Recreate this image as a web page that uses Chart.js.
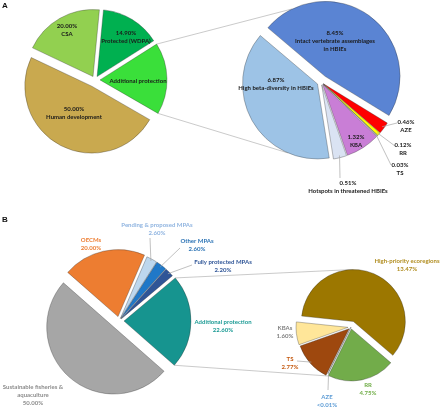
<!DOCTYPE html>
<html>
<head>
<meta charset="utf-8">
<script src="https://cdn.jsdelivr.net/npm/chart.js@4.4.1/dist/chart.umd.min.js"></script>
<style>
  body { margin: 0; background: #fff; }
  #wrap { position: relative; width: 440px; height: 408px; overflow: hidden; }
  #wrap canvas { position: absolute; left: 0; top: 0; }
  .panel { position: absolute; font: bold 8px "Liberation Sans", Arial, sans-serif; color: #111; }
</style>
</head>
<body>
<div id="wrap">
  <canvas id="links" width="440" height="408"></canvas>
  <canvas id="aMain" width="440" height="408"></canvas>
  <canvas id="aDetail" width="440" height="408"></canvas>
  <canvas id="bMain" width="440" height="408"></canvas>
  <canvas id="bDetail" width="440" height="408"></canvas>
  <div class="panel" style="left:2px;top:1px">A</div>
  <div class="panel" style="left:2px;top:215px">B</div>
</div>
<script>
// panel A, main pie (the last slice is the sum of the detail pie)
const aMainLabels = ['Human development', 'CSA', 'Protected (WDPA)', 'Additional protection'];
const aMainValues = [50.00, 20.00, 14.90];
// panel A, detail pie of "Additional protection"
const aDetailLabels = ['High beta-diversity in HBIEs', 'Intact vertebrate assemblages\nin HBIEs', 'AZE', 'RR', 'TS', 'KBA', 'Hotspots in threatened HBIEs'];
const aDetailValues = [6.87, 8.45, 0.46, 0.12, 0.03, 1.32, 0.51];
// panel B, main pie
const bMainLabels = ['Sustainable fisheries &\naquaculture', 'OECMs', 'Pending & proposed MPAs', 'Other MPAs', 'Fully protected MPAs', 'Additional protection'];
const bMainValues = [50.00, 20.00, 2.60, 2.60, 2.20, 22.60];
// panel B, detail pie of "Additional protection"
const bDetailLabels = ['High-priority ecoregions', 'RR', 'AZE', 'TS', 'KBAs'];
const bDetailValues = [13.47, 4.75, 0.005, 2.77, 1.60];

const W = 440, H = 408;
const aOther = aDetailValues.reduce((s, v) => s + v, 0);

function pct(v) {
  if (v == null) return null;
  return v < 0.01 ? '<0.01%' : v.toFixed(2) + '%';
}

// point on the rim of slice i (exploded), at angle a (radians)
function rimPoint(chart, i, a, scale) {
  const arc = chart.getDatasetMeta(0).data[i];
  const e = chart.data.datasets[0].explode[i] || 0;
  const mid = (arc.startAngle + arc.endAngle) / 2;
  const r = arc.outerRadius * (scale || 1);
  return {
    x: arc.x + Math.cos(mid) * e + Math.cos(a) * r,
    y: arc.y + Math.sin(mid) * e + Math.sin(a) * r
  };
}
function midAngle(chart, i) {
  const arc = chart.getDatasetMeta(0).data[i];
  return (arc.startAngle + arc.endAngle) / 2;
}

// draw each slice shifted out along its middle angle
const explodePlugin = {
  id: 'explode',
  beforeDatasetDraw(chart, args) {
    const ctx = chart.ctx;
    const shift = chart.data.datasets[args.index].explode || [];
    args.meta.data.forEach((arc, i) => {
      const mid = (arc.startAngle + arc.endAngle) / 2;
      const d = shift[i] || 0;
      ctx.save();
      ctx.translate(Math.cos(mid) * d, Math.sin(mid) * d);
      arc.draw(ctx);
      ctx.restore();
    });
    return false;
  }
};

function textPlugin(cfg) {
  return {
    id: 'sliceText',
    afterDatasetsDraw(chart) {
      const ctx = chart.ctx;
      ctx.save();
      ctx.strokeStyle = '#A6A6A6';
      ctx.lineWidth = 0.7;
      (cfg.leaders || []).forEach(l => {
        const p = rimPoint(chart, l.i, midAngle(chart, l.i), l.r || 0.97);
        ctx.beginPath();
        ctx.moveTo(p.x, p.y);
        ctx.lineTo(l.x, l.y);
        ctx.stroke();
      });
      ctx.font = cfg.font;
      ctx.textAlign = 'center';
      ctx.textBaseline = 'middle';
      cfg.items.forEach(t => {
        const name = chart.data.labels[t.i].split('\n');
        const val = pct(cfg.shown[t.i]);
        let lines = name;
        if (val) lines = cfg.valueFirst ? [val].concat(name) : name.concat([val]);
        ctx.fillStyle = t.color || cfg.color;
        lines.forEach((s, k) => ctx.fillText(s, t.x, t.y + k * 7.8));
      });
      ctx.restore();
    }
  };
}

function makePie(id, cfg) {
  const pad = {
    left: Math.max(0, 2 * cfg.cx - W), right: Math.max(0, W - 2 * cfg.cx),
    top: Math.max(0, 2 * cfg.cy - H), bottom: Math.max(0, H - 2 * cfg.cy)
  };
  return new Chart(document.getElementById(id), {
    type: 'pie',
    data: {
      labels: cfg.labels,
      datasets: [{
        data: cfg.values,
        backgroundColor: cfg.colors,
        borderColor: 'rgba(40,40,40,0.45)',
        borderWidth: 0.7,
        explode: cfg.explode
      }]
    },
    options: {
      responsive: false,
      animation: false,
      events: [],
      rotation: cfg.start + 90,
      radius: cfg.r,
      layout: { padding: pad },
      plugins: { legend: { display: false }, tooltip: { enabled: false } }
    },
    plugins: [explodePlugin, textPlugin(cfg)]
  });
}

const fontA = 'bold 6px Lato, "Open Sans", sans-serif';

const aMain = makePie('aMain', {
  labels: aMainLabels, values: aMainValues.concat([aOther]), shown: aMainValues,
  colors: ['#C9A94F', '#92D050', '#00B050', '#3ADF3A'],
  cx: 95, cy: 80, r: 67, start: 30, explode: [7, 4, 4, 5],
  font: fontA, color: '#1A1A1A', valueFirst: true,
  items: [
    { i: 1, x: 67, y: 26 }, { i: 2, x: 126, y: 33 },
    { i: 3, x: 138, y: 81 }, { i: 0, x: 74, y: 109 }
  ]
});

const aDetail = makePie('aDetail', {
  labels: aDetailLabels, values: aDetailValues, shown: aDetailValues,
  colors: ['#9DC3E6', '#5A84D3', '#FF0000', '#FFFF00', '#BFBFBF', '#C97ED6', '#DAE3F3'],
  cx: 321, cy: 82, r: 75, start: 81, explode: [4, 7, 3, 3, 3, 3, 3],
  font: fontA, color: '#1A1A1A', valueFirst: true,
  items: [
    { i: 1, x: 335, y: 33 }, { i: 0, x: 276, y: 80 }, { i: 5, x: 356, y: 137 },
    { i: 2, x: 406, y: 122 }, { i: 3, x: 403, y: 145 }, { i: 4, x: 400, y: 165 },
    { i: 6, x: 348, y: 183 }
  ],
  leaders: [
    { i: 2, x: 397, y: 123 }, { i: 3, x: 395, y: 146 },
    { i: 4, x: 391, y: 165 }, { i: 6, x: 340, y: 178 }
  ]
});

const fontB = 'bold 6px Lato, "Open Sans", sans-serif';

const bMain = makePie('bMain', {
  labels: bMainLabels, values: bMainValues, shown: bMainValues,
  colors: ['#A6A6A6', '#ED7D31', '#BDD7EE', '#1F78C8', '#2F5597', '#16948F'],
  cx: 119, cy: 321, r: 67, start: 41.3, explode: [8, 4.5, 3, 3, 3, 5],
  font: fontB, valueFirst: false,
  items: [
    { i: 1, x: 91, y: 240, color: '#ED7D31' },
    { i: 2, x: 157, y: 225, color: '#8FB4E0' },
    { i: 3, x: 197, y: 241, color: '#2E75B6' },
    { i: 4, x: 223, y: 262, color: '#2F5597' },
    { i: 5, x: 223, y: 322, color: '#1A9A94' },
    { i: 0, x: 33, y: 387, color: '#8C8C8C' }
  ],
  leaders: [
    { i: 2, x: 150, y: 238 }, { i: 3, x: 180, y: 248 }, { i: 4, x: 192, y: 265 }
  ]
});

const bDetail = makePie('bDetail', {
  labels: bDetailLabels, values: bDetailValues, shown: bDetailValues,
  colors: ['#9C7700', '#72AC4A', '#9DC3E6', '#9E480E', '#FFE699'],
  cx: 351, cy: 327, r: 52, start: 186, explode: [6, 2, 0, 2.5, 3],
  font: fontB, valueFirst: false,
  items: [
    { i: 0, x: 407, y: 261, color: '#B08C1E' },
    { i: 4, x: 285, y: 328, color: '#7F7F7F' },
    { i: 3, x: 290, y: 359, color: '#C55A11' },
    { i: 1, x: 368, y: 385, color: '#70AD47' },
    { i: 2, x: 327, y: 397, color: '#5B9BD5' }
  ],
  leaders: [
    { i: 3, x: 297, y: 361 }, { i: 2, x: 328, y: 390 }
  ]
});

// series lines joining each "Additional protection" slice to its detail pie
const deg = d => d * Math.PI / 180;
function corner(chart, i, end) {
  const arc = chart.getDatasetMeta(0).data[i];
  return rimPoint(chart, i, end ? arc.endAngle : arc.startAngle);
}
const lctx = document.getElementById('links').getContext('2d');
lctx.strokeStyle = '#C4C4C4';
lctx.lineWidth = 0.9;
[
  [corner(aMain, 3, false), rimPoint(aDetail, 1, deg(244))],
  [corner(aMain, 3, true), rimPoint(aDetail, 0, deg(113))],
  [corner(bMain, 5, false), rimPoint(bDetail, 0, deg(270))],
  [corner(bMain, 5, true), rimPoint(bDetail, 1, deg(115))]
].forEach(([p, q]) => {
  lctx.beginPath();
  lctx.moveTo(p.x, p.y);
  lctx.lineTo(q.x, q.y);
  lctx.stroke();
});
</script>
</body>
</html>
